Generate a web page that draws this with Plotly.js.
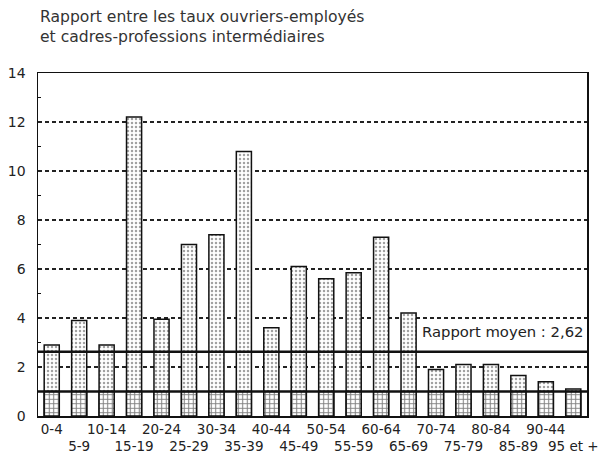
<!DOCTYPE html>
<html><head><meta charset="utf-8">
<script src="https://cdn.plot.ly/plotly-3.0.1.min.js"></script>
<style>html,body{margin:0;padding:0;background:#fff}</style>
</head><body><div id="chart" style="width:603px;height:457px"></div>
<script>
const categories = ["0-4","5-9","10-14","15-19","20-24","25-29","30-34","35-39","40-44","45-49","50-54","55-59","60-64","65-69","70-74","75-79","80-84","85-89","90-44","95 et +"];
const ratios = [2.9,3.9,2.9,12.2,3.95,7.0,7.4,10.8,3.6,6.1,5.6,5.85,7.3,4.2,1.9,2.1,2.1,1.65,1.4,1.1];
const baseline = [1,1,1,1,1,1,1,1,1,1,1,1,1,1,1,1,1,1,1,1];
const meanRatio = 2.62;
const meanLabel = "Rapport moyen : 2,62";
const yTicks = [0,2,4,6,8,10,12,14];

const idx = categories.map((c,i)=>i);
const tickText = categories.map((c,i)=> i%2===0 ? c : "\u00a0<br>"+c);

const font = "DejaVu Sans, Verdana, sans-serif";
const data = [
  {type:"bar", x:idx, y:ratios, width:0.55,
   marker:{color:"#fff", line:{color:"#111", width:1.5},
     pattern:{shape:".", size:4, solidity:0.3, fgcolor:"#444", bgcolor:"#fff", fillmode:"overlay"}},
   hoverinfo:"skip"},
  {type:"bar", x:idx, y:baseline, width:0.55,
   marker:{color:"#fff", line:{color:"#111", width:1.5},
     pattern:{shape:"+", size:4.5, solidity:0.4, fgcolor:"#000", bgcolor:"#fff", fillmode:"overlay"}},
   hoverinfo:"skip"}
];
const layout = {
  width:603, height:457, showlegend:false, barmode:"overlay",
  paper_bgcolor:"#fff", plot_bgcolor:"#fff",
  margin:{l:38, r:16, t:73, b:41},
  font:{family:font, color:"#222", size:13},
  xaxis:{range:[-0.5,19.5], tickmode:"array", tickvals:idx, ticktext:tickText, tickangle:0,
    showline:true, linecolor:"#111", linewidth:1.5, mirror:true, ticks:"", showgrid:false,
    zeroline:false, tickfont:{family:font, size:13.5, color:"#222"}, fixedrange:true},
  yaxis:{range:[0,14], tickmode:"array", tickvals:yTicks, ticks:"",
    showline:true, linecolor:"#111", linewidth:1.5, mirror:true,
    showgrid:true, gridcolor:"#222", gridwidth:1.3, griddash:"4px,3px",
    zeroline:false, tickfont:{family:font, size:14, color:"#222"}, ticklabelstandoff:8,
    minor:{tickvals:[1,3,5,7,9,11,13], ticks:"inside", ticklen:3, tickcolor:"#111", showgrid:false},
    fixedrange:true},
  shapes:[
    {type:"line", xref:"paper", x0:0, x1:1, yref:"y", y0:meanRatio, y1:meanRatio, line:{color:"#111", width:2.5}, layer:"above"},
    {type:"line", xref:"paper", x0:0, x1:1, yref:"y", y0:baseline[0], y1:baseline[0], line:{color:"#111", width:2.5}, layer:"above"}
  ],
  annotations:[
    {text:"Rapport entre les taux ouvriers-employés<br>et cadres-professions intermédiaires",
     xref:"paper", x:0.0, xanchor:"left", yref:"paper", y:1.195, yanchor:"top", align:"left",
     showarrow:false, font:{family:font, size:15.6, color:"#333"}},
    {text:meanLabel, xref:"paper", x:0.997, xanchor:"right", yref:"y", y:3.45, yanchor:"middle",
     showarrow:false, bgcolor:"#fff", font:{family:font, size:14.8, color:"#222"}, borderpad:0}
  ]
};
Plotly.newPlot("chart", data, layout, {staticPlot:true, displayModeBar:false});
</script></body></html>
